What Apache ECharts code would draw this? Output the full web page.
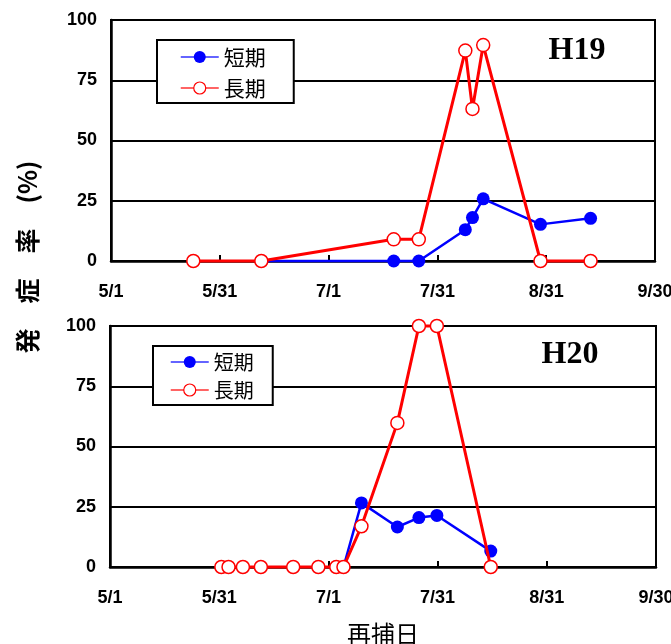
<!DOCTYPE html>
<html>
<head>
<meta charset="utf-8">
<script src="https://cdn.jsdelivr.net/npm/echarts@6/dist/echarts.min.js"></script>
<style>
html,body{margin:0;padding:0;background:#fff;}
#chart{width:671px;height:644px;}
</style>
</head>
<body>
<div id="chart"></div>
<script>
// ---- data ----
const xTickLabels = ['5/1', '5/31', '7/1', '7/31', '8/31', '9/30'];
const yTicks = [0, 25, 50, 75, 100];
const seriesNames = ['短期', '長期'];
const panelTitles = ['H19', 'H20'];

const h19ShortDates = ['6/12', '7/19', '7/26', '8/8', '8/10', '8/13', '8/29', '9/12'];
const h19ShortValues = [0, 0, 0, 13, 18, 25.8, 15.2, 17.7];
const h19LongDates = ['5/24', '6/12', '7/19', '7/26', '8/8', '8/10', '8/13', '8/29', '9/12'];
const h19LongValues = [0, 0, 9, 9, 87.3, 63.1, 89.6, 0, 0];

const h20ShortDates = ['7/5', '7/10', '7/20', '7/26', '7/31', '8/15'];
const h20ShortValues = [0, 26.6, 16.6, 20.5, 21.4, 6.6];
const h20LongDates = ['6/1', '6/3', '6/7', '6/12', '6/21', '6/28', '7/3', '7/5', '7/10', '7/20', '7/26', '7/31', '8/15'];
const h20LongValues = [0, 0, 0, 0, 0, 0, 0, 0, 16.9, 59.8, 100, 100, 0];

// ---- helpers ----
const monthStart = {5: 0, 6: 31, 7: 61, 8: 92, 9: 123};
function dayOffset(md) {
  const p = md.split('/');
  return monthStart[+p[0]] + (+p[1]) - 1;
}
function pairs(dates, vals) {
  return dates.map((d, i) => [dayOffset(d), vals[i]]);
}
const X_MAX = dayOffset('9/30');            // 152
const X_INT = X_MAX / (xTickLabels.length - 1); // equal spacing

const tickFont = {fontFamily: 'Liberation Sans', fontWeight: 'bold', fontSize: 18, color: '#000'};

function makeX(gi) {
  return {
    type: 'value', gridIndex: gi, min: 0, max: X_MAX, interval: X_INT,
    axisLine: {show: true, onZero: false, lineStyle: {color: '#000', width: 2.5}},
    axisTick: {show: true, inside: true, length: 6, lineStyle: {color: '#000', width: 2}},
    splitLine: {show: false},
    axisLabel: Object.assign({
      margin: 22, showMinLabel: true, showMaxLabel: true, hideOverlap: false,
      formatter: v => xTickLabels[Math.round(v / X_INT)]
    }, tickFont)
  };
}
function makeY(gi) {
  return {
    type: 'value', gridIndex: gi, min: yTicks[0], max: yTicks[yTicks.length - 1],
    interval: yTicks[1] - yTicks[0],
    axisLine: {show: true, lineStyle: {color: '#000', width: 2.5}},
    axisTick: {show: false},
    splitLine: {show: true, lineStyle: {color: '#000', width: 2}},
    axisLabel: Object.assign({margin: 14}, tickFont)
  };
}
function shortSeries(gi, data) {
  return {
    name: seriesNames[0], type: 'line', xAxisIndex: gi, yAxisIndex: gi,
    data: data, clip: false, symbol: 'circle', symbolSize: 13,
    lineStyle: {color: '#0000FF', width: 2.5},
    itemStyle: {color: '#0000FF'},
    z: 2
  };
}
function longSeries(gi, data) {
  return {
    name: seriesNames[1], type: 'line', xAxisIndex: gi, yAxisIndex: gi,
    data: data, clip: false, symbol: 'circle', symbolSize: 13,
    lineStyle: {color: '#FF0000', width: 3},
    itemStyle: {color: '#FFFFFF', borderColor: '#FF0000', borderWidth: 1.5},
    z: 3
  };
}
function makeLegend(gi, left, top, pad, font, lh, gap) {
  return {
    show: true, orient: 'vertical', left: left, top: top,
    padding: pad, itemGap: gap, itemWidth: 38, itemHeight: 15,
    backgroundColor: '#fff', borderColor: '#000', borderWidth: 2, borderRadius: 0,
    data: [
      {name: seriesNames[0], itemStyle: {color: '#0000FF'}, lineStyle: {color: '#3030FF', width: 1.5}},
      {name: seriesNames[1], itemStyle: {color: '#FFFFFF', borderColor: '#FF0000', borderWidth: 1.2}, lineStyle: {color: '#FF3030', width: 1.5}}
    ],
    textStyle: {fontFamily: 'Noto Sans CJK JP', fontSize: font, lineHeight: lh, color: '#000'},
    selectedMode: false
  };
}

const chart = echarts.init(document.getElementById('chart'), null, {renderer: 'canvas'});
const option = {
  animation: false,
  backgroundColor: '#fff',
  grid: [
    {left: 111, top: 20, width: 544, height: 241, show: true, borderColor: '#000', borderWidth: 2, backgroundColor: 'transparent', containLabel: false, outerBoundsMode: 'none'},
    {left: 110, top: 326, width: 546, height: 241, show: true, borderColor: '#000', borderWidth: 2, backgroundColor: 'transparent', containLabel: false, outerBoundsMode: 'none'}
  ],
  xAxis: [makeX(0), makeX(1)],
  yAxis: [makeY(0), makeY(1)],
  legend: [
    makeLegend(0, 157, 40, [5, 28, 3, 23], 21, 24, 7),
    makeLegend(1, 153, 346, [5, 19, 4, 17], 20, 22, 6)
  ],
  series: [
    shortSeries(0, pairs(h19ShortDates, h19ShortValues)),
    longSeries(0, pairs(h19LongDates, h19LongValues)),
    shortSeries(1, pairs(h20ShortDates, h20ShortValues)),
    longSeries(1, pairs(h20LongDates, h20LongValues))
  ],
  graphic: [
    {type: 'text', x: 577, y: 51, z: 10, style: {text: panelTitles[0], font: 'bold 32px "Liberation Serif"', fill: '#000', textAlign: 'center', textVerticalAlign: 'middle'}},
    {type: 'text', x: 570, y: 355, z: 10, style: {text: panelTitles[1], font: 'bold 32px "Liberation Serif"', fill: '#000', textAlign: 'center', textVerticalAlign: 'middle'}},
    {type: 'text', x: 27, y: 257, rotation: Math.PI / 2, z: 10, style: {text: '発　症　率　(%)', font: 'bold 25px "Noto Sans CJK JP"', fill: '#000', textAlign: 'center', textVerticalAlign: 'middle'}},
    {type: 'text', x: 383, y: 634, z: 10, style: {text: '再捕日', font: '24px "Noto Sans CJK JP"', fill: '#000', textAlign: 'center', textVerticalAlign: 'middle'}}
  ]
};
chart.setOption(option);
</script>
</body>
</html>
